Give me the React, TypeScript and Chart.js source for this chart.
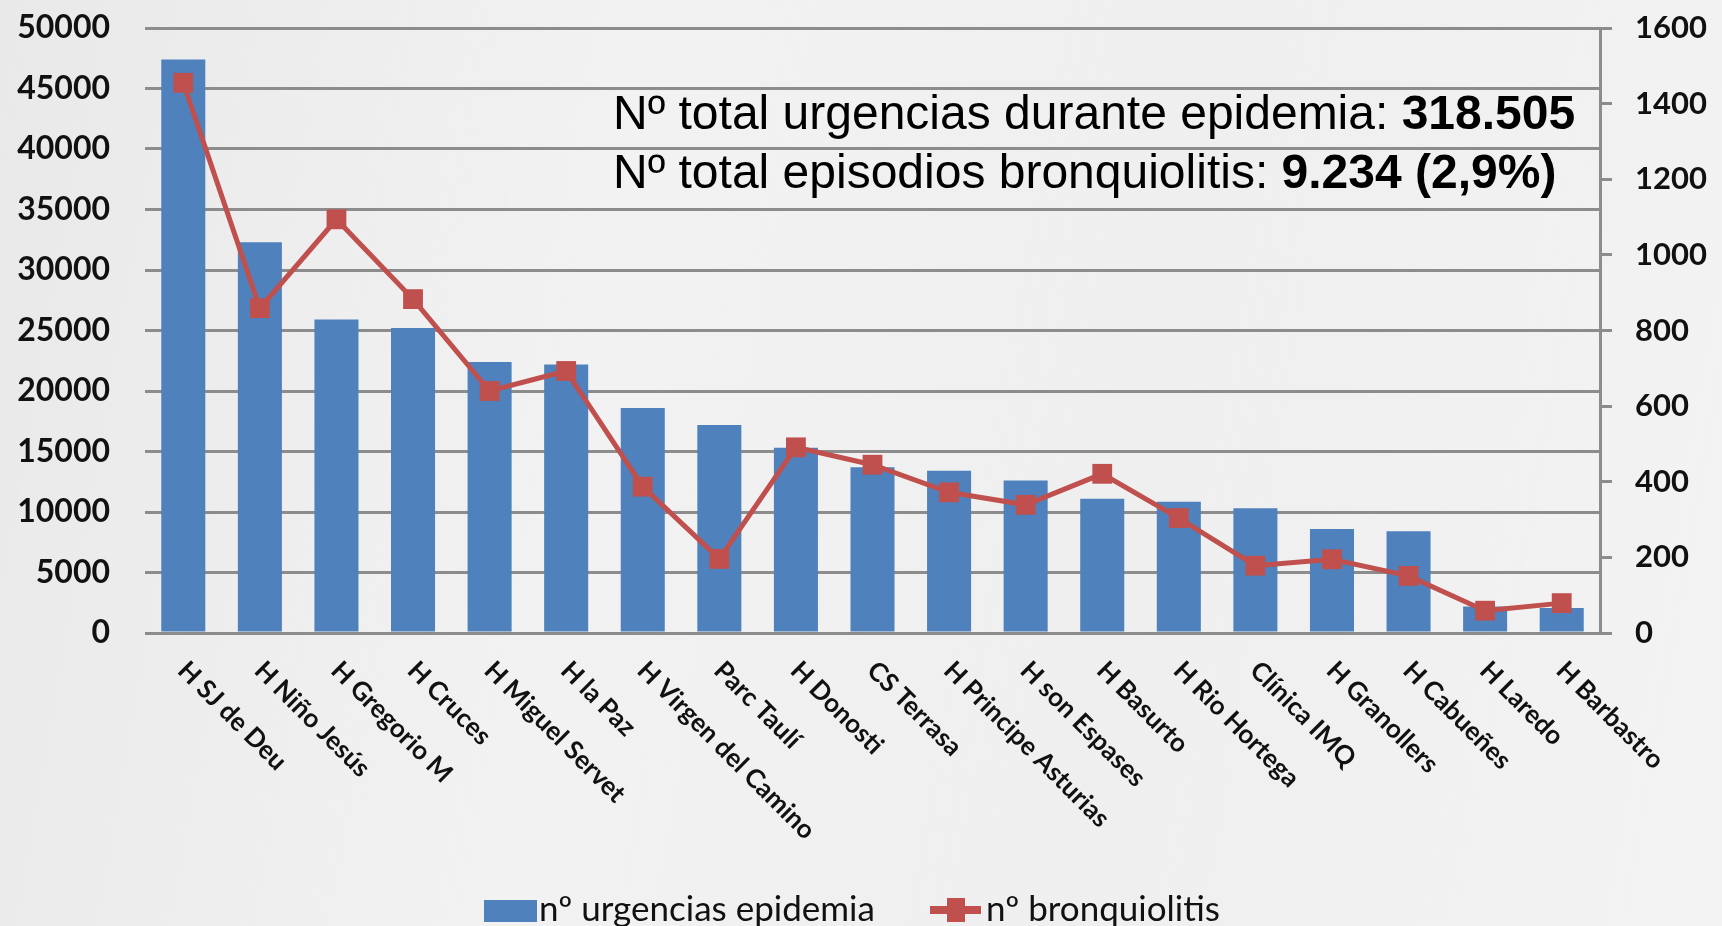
import React, { useEffect, useRef } from "react";
import { Chart, registerables } from "chart.js";

Chart.register(...registerables);

const categories = [
  "H SJ de Deu",
  "H Niño Jesús",
  "H Gregorio M",
  "H Cruces",
  "H Miguel Servet",
  "H la Paz",
  "H Virgen del Camino",
  "Parc Taulí",
  "H Donosti",
  "CS Terrasa",
  "H Principe Asturias",
  "H son Espases",
  "H Basurto",
  "H Rio Hortega",
  "Clínica IMQ",
  "H Granollers",
  "H Cabueñes",
  "H Laredo",
  "H Barbastro",
];

const urgencias = [
  47400, 32300, 25900, 25200, 22400, 22200, 18600, 17200, 15300, 13700, 13400,
  12600, 11100, 10850, 10300, 8600, 8400, 2200, 2070,
];

const bronquiolitis = [
  1455, 859, 1094, 883, 640, 693, 387, 196, 491, 445, 372, 339, 421, 304, 178,
  195, 151, 59, 79,
];

const seriesLabels = ["nº urgencias epidemia", "nº bronquiolitis"];

const leftMax = 50000;
const leftStep = 5000;
const rightMax = 1600;
const rightStep = 200;

const annotationLines: [string, string][] = [
  ["Nº total urgencias durante epidemia: ", "318.505"],
  ["Nº total episodios bronquiolitis: ", "9.234 (2,9%)"],
];

const BLUE = "#4f81bd";
const RED = "#c0504d";
const GRID = "#8c8c8c";
const LABEL_FONT = "Lato, 'Noto Sans', sans-serif";

const overlayPlugin = {
  id: "overlay",
  afterDraw(chart: any) {
    const { ctx, chartArea, scales } = chart;
    const xs = scales.x;
    ctx.save();
    // rotated category labels
    ctx.fillStyle = "#111";
    ctx.font = `bold 26px ${LABEL_FONT}`;
    ctx.textAlign = "left";
    ctx.textBaseline = "middle";
    categories.forEach((lab, i) => {
      const x = xs.getPixelForTick(i);
      ctx.save();
      ctx.translate(x - 1, chartArea.bottom + 33);
      ctx.rotate(Math.PI / 4);
      ctx.fillText(lab, 0, 0);
      ctx.restore();
    });

    // annotation text
    const ax = 613;
    const baselines = [129, 188];
    ctx.fillStyle = "#000";
    ctx.textBaseline = "alphabetic";
    annotationLines.forEach(([normal, bold], i) => {
      ctx.font = `48px 'Liberation Sans', Arial, sans-serif`;
      ctx.fillText(normal, ax, baselines[i]);
      const w = ctx.measureText(normal).width;
      ctx.font = `bold 48px 'Liberation Sans', Arial, sans-serif`;
      ctx.fillText(bold, ax + w, baselines[i]);
    });

    // legend
    const ly = 910;
    ctx.font = `35px ${LABEL_FONT}`;
    ctx.textBaseline = "middle";
    ctx.fillStyle = BLUE;
    ctx.fillRect(484, 900, 53, 22);
    ctx.fillStyle = "#111";
    ctx.fillText(seriesLabels[0], 539, ly);
    ctx.strokeStyle = RED;
    ctx.lineWidth = 8;
    ctx.beginPath();
    ctx.moveTo(930, ly);
    ctx.lineTo(981, ly);
    ctx.stroke();
    ctx.fillStyle = RED;
    ctx.fillRect(947, ly - 12, 18, 24);
    ctx.fillStyle = "#111";
    ctx.fillText(seriesLabels[1], 986, ly);
    ctx.restore();
  },
};

const noPad = (s: any) => {
  s.paddingTop = 0;
  s.paddingBottom = 0;
};

export default function App() {
  const canvasRef = useRef<HTMLCanvasElement>(null);

  useEffect(() => {
    document.body.style.margin = "0";
    const canvas = canvasRef.current;
    if (!canvas) return;
    const chart = new Chart(canvas, {
      type: "bar",
      data: {
        labels: categories,
        datasets: [
          {
            type: "line",
            label: seriesLabels[1],
            data: bronquiolitis,
            yAxisID: "y1",
            borderColor: RED,
            backgroundColor: RED,
            borderWidth: 5,
            pointStyle: "rect",
            pointRadius: 14,
            pointBorderWidth: 0,
            pointBorderColor: RED,
            pointBackgroundColor: RED,
            order: 0,
          } as any,
          {
            type: "bar",
            label: seriesLabels[0],
            data: urgencias,
            yAxisID: "y",
            backgroundColor: BLUE,
            barPercentage: 0.575,
            categoryPercentage: 1,
            order: 1,
          },
        ],
      },
      options: {
        responsive: false,
        animation: false,
        maintainAspectRatio: false,
        layout: { padding: { top: 28, left: 0, right: 0, bottom: 0 } },
        plugins: {
          legend: { display: false },
          tooltip: { enabled: false },
        },
        scales: {
          x: {
            grid: { display: false },
            border: { display: false },
            ticks: { display: false },
            afterFit: (s: any) => {
              s.height = 926 - 633;
            },
          },
          y: {
            position: "left",
            min: 0,
            max: leftMax,
            grid: { color: GRID, lineWidth: 3, drawTicks: false },
            border: { display: false },
            ticks: {
              stepSize: leftStep,
              padding: 35,
              color: "#111",
              font: { family: LABEL_FONT, size: 32, weight: "bold" },
              callback: (v: any) => String(v),
            },
            afterFit: (s: any) => {
              s.width = 145;
              noPad(s);
            },
          },
          y1: {
            position: "right",
            min: 0,
            max: rightMax,
            grid: {
              drawOnChartArea: false,
              drawTicks: true,
              tickLength: 12,
              color: GRID,
              lineWidth: 3,
            },
            border: { display: true, color: GRID, width: 3 },
            ticks: {
              stepSize: rightStep,
              padding: 23,
              color: "#111",
              font: { family: LABEL_FONT, size: 31, weight: "bold" },
              callback: (v: any) => String(v),
            },
            afterFit: (s: any) => {
              s.width = 122;
              noPad(s);
            },
          },
        },
      },
      plugins: [overlayPlugin],
    });
    return () => chart.destroy();
  }, []);

  return (
    <div
      style={{
        width: 1722,
        height: 926,
        background:
          "linear-gradient(100deg, #e9e9e9 0%, #f2f2f2 35%, #efefef 65%, #f3f3f3 100%)",
      }}
    >
      <canvas ref={canvasRef} width={1722} height={926} style={{ display: "block" }} />
    </div>
  );
}
